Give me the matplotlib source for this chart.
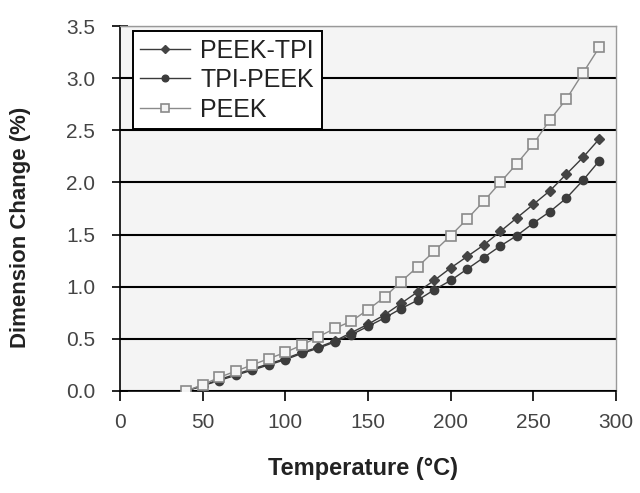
import matplotlib.pyplot as plt
import numpy as np

plt.rcParams['font.family'] = ['Liberation Sans', 'DejaVu Sans']

# temperature (C)
temp = [40, 50, 60, 70, 80, 90, 100, 110, 120, 130, 140, 150, 160,
        170, 180, 190, 200, 210, 220, 230, 240, 250, 260, 270, 280, 290]

peek_tpi = [0.00, 0.05, 0.11, 0.16, 0.21, 0.26, 0.31, 0.37, 0.42, 0.48, 0.56, 0.64, 0.73,
            0.84, 0.95, 1.06, 1.18, 1.29, 1.40, 1.53, 1.66, 1.79, 1.92, 2.08, 2.24, 2.42]
tpi_peek = [0.00, 0.05, 0.10, 0.15, 0.20, 0.25, 0.30, 0.36, 0.41, 0.47, 0.54, 0.62, 0.70,
            0.79, 0.87, 0.97, 1.06, 1.17, 1.28, 1.39, 1.49, 1.61, 1.72, 1.85, 2.02, 2.21]
peek = [0.00, 0.06, 0.13, 0.19, 0.25, 0.31, 0.37, 0.44, 0.52, 0.60, 0.67, 0.78, 0.90,
        1.05, 1.19, 1.34, 1.49, 1.65, 1.82, 2.00, 2.18, 2.37, 2.60, 2.80, 3.05, 3.30]

fig = plt.figure(figsize=(6.4, 4.93), dpi=100)
ax = fig.add_axes([0.1875, 0.207, 0.775, 0.740])
ax.set_facecolor('#f4f4f4')

ax.plot(temp, peek_tpi, color='#3a3a3a', lw=1.0, marker='D', ms=5,
        mfc='#444444', mec='#444444', label='PEEK-TPI', zorder=3)
ax.plot(temp, tpi_peek, color='#3a3a3a', lw=1.0, marker='o', ms=6,
        mfc='#3c3c3c', mec='#3c3c3c', label='TPI-PEEK', zorder=3)
ax.plot(temp, peek, color='#8a8a8a', lw=1.0, marker='s', ms=6.5,
        mfc='#f4f4f4', mec='#8a8a8a', mew=1.2, label='PEEK', zorder=4)

ax.set_xlim(0, 300)
ax.set_ylim(0, 3.5)
ax.set_xticks(np.arange(0, 301, 50))
ax.set_yticks(np.arange(0, 3.51, 0.5))
ax.set_yticklabels(['%.1f' % v for v in np.arange(0, 3.51, 0.5)])
ax.yaxis.grid(True, color='black', lw=1.5)
ax.set_axisbelow(True)

ax.tick_params(axis='y', direction='inout', length=12, width=1.2, labelsize=15,
               labelcolor='#444444', pad=12)
ax.tick_params(axis='x', direction='out', length=7, width=1.2, labelsize=15,
               labelcolor='#444444', pad=9)
for s in ['left', 'bottom']:
    ax.spines[s].set_color('black')
    ax.spines[s].set_linewidth(1.2)
for s in ['top', 'right']:
    ax.spines[s].set_color('#999999')
    ax.spines[s].set_linewidth(1.0)

ax.set_xlabel('Temperature (°C)', fontsize=17, fontweight='bold', color='#222222')
ax.set_ylabel('Dimension Change (%)', fontsize=16, fontweight='bold', color='#222222',
              va='center')
ax.xaxis.set_label_coords(0.49, -0.18)
ax.yaxis.set_label_coords(-0.2, 0.447)

leg = ax.legend(loc='upper left', bbox_to_anchor=(0.026, 0.986), fontsize=18, frameon=True,
                fancybox=False, edgecolor='black', framealpha=1, handlelength=2.0,
                borderpad=0.3, labelspacing=0.22, handletextpad=0.4, markerscale=0.8,
                borderaxespad=0)
leg.get_frame().set_linewidth(1.4)
for t in leg.get_texts():
    t.set_color('#222222')

fig.savefig('out.png', dpi=100)
